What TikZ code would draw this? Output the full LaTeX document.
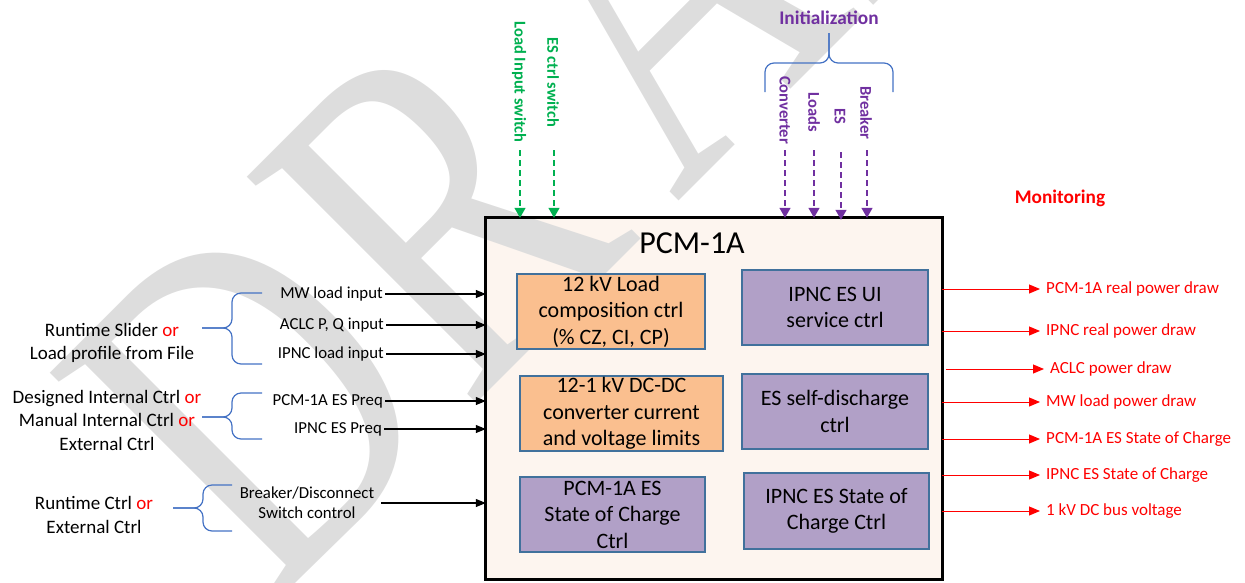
\documentclass[tikz,border=0pt]{standalone}
\usepackage{fontspec}
\setmainfont{Carlito}
\newfontfamily\wmfont{Liberation Serif}
\usetikzlibrary{arrows.meta, positioning}
\definecolor{boxorange}{HTML}{FABF8F}
\definecolor{boxpurple}{HTML}{B1A0C7}
\definecolor{boxedge}{RGB}{65,113,156}
\definecolor{pcmfill}{RGB}{253,245,239}
\definecolor{bracblue}{RGB}{68,114,196}
\definecolor{swgreen}{RGB}{0,176,80}
\definecolor{initpurple}{RGB}{112,48,160}
\definecolor{wmgray}{RGB}{221,221,221}

\begin{document}
\begin{tikzpicture}[x=1pt, y=-1pt,
  ctrlbox/.style={draw=boxedge, line width=1.3pt, inner sep=0pt, align=center,
    minimum height=75pt, font=\fontsize{22}{26.5}\selectfont},
  inlbl/.style={anchor=east, inner xsep=2pt, inner ysep=1pt, font=\fontsize{16.8}{20}\selectfont},
  outlbl/.style={anchor=west, inner xsep=6pt, inner ysep=1pt, text=red, font=\fontsize{17}{20}\selectfont},
  grplbl/.style={align=center, font=\fontsize{19}{23.5}\selectfont},
  vlbl/.style={rotate=-90, inner sep=1pt, font=\bfseries\fontsize{16.5}{19}\selectfont},
  hdlbl/.style={font=\bfseries\fontsize{19.3}{22}\selectfont},
  inarrow/.style={line width=1.1pt, -{Triangle[length=10pt,width=8pt]}},
  outarrow/.style={red, line width=1pt, -{Triangle[length=11pt,width=9pt]}},
  dsharrow/.style={line width=1.3pt, dash pattern=on 6pt off 4pt, -{Triangle[length=10pt,width=11pt]}},
  brc/.style={bracblue, line width=1.2pt, rounded corners=9pt}]

  \useasboundingbox (0,0) rectangle (1245,582);
  \clip (0,0) rectangle (1245,582);

  % PCM-1A block (fill only, border later)
  \node[fill=pcmfill, inner sep=0pt, minimum width=456pt, minimum height=361pt] (pcm) at (714,398.5) {};

  % watermark
  \node[anchor=base west, inner sep=0pt, rotate=45, xscale=0.75, text=wmgray,
    font=\wmfont\fontsize{492}{492}\selectfont] (draft) at (270.6,609) {D\kern16pt R\kern66pt AFT};

  \draw[line width=3pt] (pcm.north west) rectangle (pcm.south east);
  \node[font=\fontsize{32}{36}\selectfont] (title) at (692,243) {PCM-1A};

  % inner control blocks
  \node[ctrlbox, fill=boxorange, minimum width=188pt] (ldcomp) at (611,311.5)
    {12 kV Load\\composition ctrl\\(\% CZ, CI, CP)};
  \node[ctrlbox, fill=boxorange, minimum width=203pt] (dcdc) at (621.5,413.5)
    {12-1 kV DC-DC\\converter current\\and voltage limits};
  \node[ctrlbox, fill=boxpurple, minimum width=185pt] (pcmsocctrl) at (612.5,514.5)
    {PCM-1A ES\\State of Charge\\Ctrl};
  \node[ctrlbox, fill=boxpurple, minimum width=186pt] (uisvc) at (835,307.5)
    {IPNC ES UI\\service ctrl};
  \node[ctrlbox, fill=boxpurple, minimum width=186pt] (selfdis) at (835,411.5)
    {ES self-discharge\\ctrl};
  \node[ctrlbox, fill=boxpurple, minimum width=185pt, minimum height=76pt] (ipncsocctrl) at (836.5,511)
    {IPNC ES State of\\Charge Ctrl};

  % input sources
  \node[grplbl] (slider) at (112,343) {Runtime Slider {\color{red}or}\\Load profile from File};
  \node[grplbl] (esctrl) at (107,420) {Designed Internal Ctrl {\color{red}or}\\Manual Internal Ctrl {\color{red}or}\\External Ctrl};
  \node[grplbl] (rtctrl) at (94,515) {Runtime Ctrl {\color{red}or}\\External Ctrl};

  % braces
  \draw[brc] (262,293) -| (232,328) -- (202,328);
  \draw[brc] (202,328) -- (232,328) |- (262,364);
  \draw[brc] (262,393) -| (232,417) -- (202,417);
  \draw[brc] (202,417) -- (232,417) |- (262,439);
  \draw[brc] (232,485) -| (203,508) -- (173,508);
  \draw[brc] (173,508) -- (203,508) |- (232,531);

  % inputs
  \node[inlbl] (mwin) at (385,294) {MW load input};
  \node[inlbl] (aclcin) at (386,325) {ACLC P, Q input};
  \node[inlbl] (ipncin) at (386,354) {IPNC load input};
  \node[inlbl] (pcmpreq) at (385,401) {PCM-1A ES Preq};
  \node[inlbl] (ipncpreq) at (384,429) {IPNC ES Preq};
  \node[inlbl, anchor=center, align=center, inner sep=0pt] (brkin) at (307,503) {Breaker/Disconnect\\Switch control};

  \foreach \n in {mwin, aclcin, ipncin, pcmpreq, ipncpreq}
    \draw[inarrow] (\n.east) -- (\n.east -| pcm.west);
  \draw[inarrow] ([xshift=7pt]brkin.east) -- (brkin.east -| pcm.west);

  % monitoring outputs
  \node[hdlbl, text=red] (mon) at (1060,198) {Monitoring};
  \node[outlbl] (pcmpow) at (1040,289) {PCM-1A real power draw};
  \node[outlbl] (ipncpow) at (1040,331) {IPNC real power draw};
  \node[outlbl] (aclcpow) at (1044,369) {ACLC power draw};
  \node[outlbl] (mwpow) at (1040,402) {MW load power draw};
  \node[outlbl] (pcmsoc) at (1040,439) {PCM-1A ES State of Charge};
  \node[outlbl] (ipncsoc) at (1040,475) {IPNC ES State of Charge};
  \node[outlbl] (busv) at (1040,511) {1 kV DC bus voltage};

  \foreach \n in {pcmpow, ipncpow, mwpow, pcmsoc, ipncsoc, busv}
    \draw[outarrow] (pcm.east |- \n.west) -- (\n.west);
  \draw[outarrow] ([xshift=4pt]pcm.east |- aclcpow.west) -- (aclcpow.west);

  % switches
  \node[vlbl, text=swgreen] (ldsw) at (519,82) {Load Input switch};
  \node[vlbl, text=swgreen] (essw) at (553,82) {ES ctrl switch};
  \coordinate (ldswst) at (520,150);
  \coordinate (esswst) at (554,150);
  \draw[dsharrow, swgreen] (ldswst) -- (ldswst |- pcm.north);
  \draw[dsharrow, swgreen] (esswst) -- (esswst |- pcm.north);

  % initialization
  \node[hdlbl, text=initpurple] (init) at (829,18) {Initialization};
  \draw[brc] (765,92) |- (829,63) -- (829,33);
  \draw[brc] (829,33) -- (829,63) -| (893,92);

  \node[vlbl, text=initpurple] (convl) at (785,110) {Converter};
  \node[vlbl, text=initpurple] (loadsl) at (814,112) {Loads};
  \node[vlbl, text=initpurple] (esl) at (840,116) {ES};
  \node[vlbl, text=initpurple] (brkl) at (866,113) {Breaker};
  \coordinate (convst) at (785,150);
  \coordinate (loadsst) at (814,150);
  \coordinate (esst) at (841,152);
  \coordinate (brkst) at (867,150);
  \foreach \c in {convst, loadsst, brkst}
    \draw[dsharrow, initpurple] (\c) -- (\c |- pcm.north);
  \draw[dsharrow, initpurple] (esst) -- ([yshift=-2pt]esst |- pcm.north);

\end{tikzpicture}
\end{document}
